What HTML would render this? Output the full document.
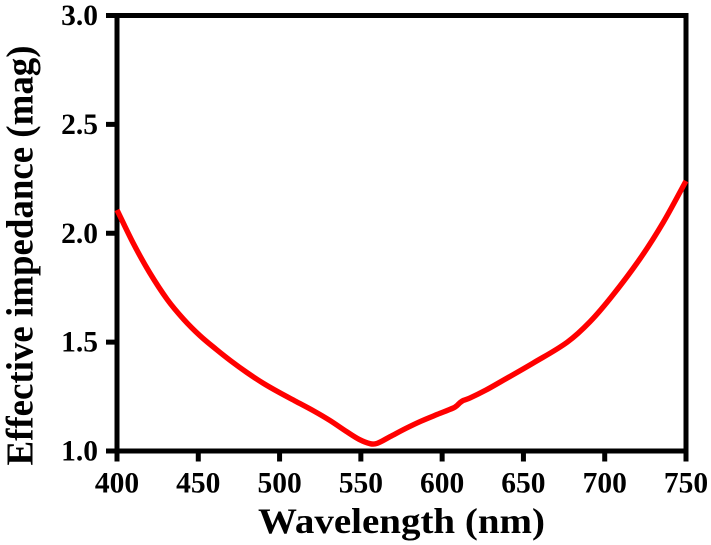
<!DOCTYPE html>
<html lang="en">
<head>
<meta charset="utf-8">
<title>Effective impedance vs wavelength</title>
<style>
html,body{margin:0;padding:0;background:#fff;}
svg{display:block;}
text{font-family:"Liberation Serif",serif;font-weight:bold;fill:#000;}
</style>
</head>
<body>
<svg id="chart" width="711" height="545" viewBox="0 0 711 545" xmlns="http://www.w3.org/2000/svg">
<g id="grid-layer"></g>
<path id="curve" fill="none" stroke="#ff0000" stroke-width="5.4" stroke-linejoin="round"></path>
<text x="401.5" y="533" font-size="36" text-anchor="middle" textLength="287" lengthAdjust="spacingAndGlyphs">Wavelength (nm)</text>
<text transform="translate(32.5 255.5) rotate(-90)" font-size="38" text-anchor="middle" textLength="420" lengthAdjust="spacingAndGlyphs">Effective impedance (mag)</text>
</svg>
<script>
const wavelengths = [400,410,420,431,441,451,461,470,480,490,500,510,521,531,541,549,556,560,568,578,587,597,607,609,611,613,617,627,636,656,677,691,705,722,736,750];
const impedance = [2.107,1.954,1.82,1.695,1.605,1.53,1.467,1.414,1.36,1.311,1.268,1.228,1.184,1.14,1.09,1.053,1.033,1.035,1.066,1.105,1.137,1.168,1.198,1.208,1.222,1.232,1.243,1.28,1.318,1.404,1.50,1.594,1.716,1.886,2.05,2.24];
const xTickValues = [400,450,500,550,600,650,700,750];
const yTickValues = [1.0,1.5,2.0,2.5,3.0];

const X0 = 117, X1 = 686, Y0 = 451, Y1 = 15.5;
const xScale = v => X0 + (v - 400) / 350 * (X1 - X0);
const yScale = v => Y0 - (v - 1) / 2 * (Y0 - Y1);
const NS = 'http://www.w3.org/2000/svg';
const axes = document.getElementById('grid-layer');

function addLine(x1, y1, x2, y2) {
  const l = document.createElementNS(NS, 'line');
  l.setAttribute('x1', x1);
  l.setAttribute('y1', y1);
  l.setAttribute('x2', x2);
  l.setAttribute('y2', y2);
  l.setAttribute('stroke', '#000');
  l.setAttribute('stroke-width', 5);
  axes.appendChild(l);
  return l;
}
function addText(x, y, str, anchor) {
  const t = document.createElementNS(NS, 'text');
  t.setAttribute('x', x);
  t.setAttribute('y', y);
  t.setAttribute('font-size', 29.5);
  t.setAttribute('text-anchor', anchor);
  t.textContent = str;
  axes.appendChild(t);
  return t;
}

const frame = document.createElementNS(NS, 'rect');


frame.setAttribute('x', X0);
frame.setAttribute('y', Y1);
frame.setAttribute('width', X1 - X0);
frame.setAttribute('height', Y0 - Y1);
frame.setAttribute('fill', 'none');
frame.setAttribute('stroke', '#000');
frame.setAttribute('stroke-width', 5);
axes.appendChild(frame);

xTickValues.forEach(v => {
  const tick = addLine(xScale(v), Y0, xScale(v), 461.5);
  
  
  const label = addText(xScale(v), 492.5, String(v), 'middle');
  
  
});
yTickValues.forEach(v => {
  const tick = addLine(106, yScale(v), X0, yScale(v));
  
  
  const label = addText(98, yScale(v) + 9.5, v.toFixed(1), 'end');
  
  
});

const pts = wavelengths.map((w, i) => [xScale(w), yScale(impedance[i])]);
let d = 'M' + pts[0][0] + ' ' + pts[0][1];
for (let i = 0; i < pts.length - 1; i++) {
  const p0 = pts[Math.max(i - 1, 0)], p1 = pts[i], p2 = pts[i + 1], p3 = pts[Math.min(i + 2, pts.length - 1)];
  const h = p2[0] - p1[0];
  const m1 = (p2[1] - p0[1]) / (p2[0] - p0[0]);
  const m2 = (p3[1] - p1[1]) / (p3[0] - p1[0]);
  d += ' C' + (p1[0] + h / 3) + ' ' + (p1[1] + m1 * h / 3) + ' ' + (p2[0] - h / 3) + ' ' + (p2[1] - m2 * h / 3) + ' ' + p2[0] + ' ' + p2[1];
}
document.getElementById('curve').setAttribute('d', d);
</script>
</body>
</html>
